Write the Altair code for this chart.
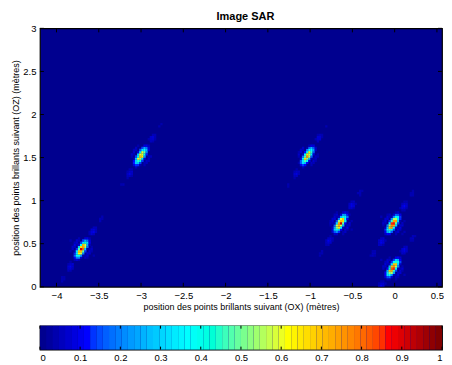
import numpy as np
import pandas as pd
import altair as alt

# ---- data ----
title_text = ["Image SAR"]
# bright scatterers (metres) and their peak level in the normalised SAR image
scat_x = [-3.70, -3.00, -1.03, -0.64, -0.02, -0.02]
scat_z = [0.44, 1.52, 1.52, 0.74, 0.73, 0.22]
scat_amp = [0.97, 0.78, 0.80, 0.95, 1.00, 0.97]

x_ticks = [-4, -3.5, -3, -2.5, -2, -1.5, -1, -0.5, 0, 0.5]
z_ticks = [0, 0.5, 1, 1.5, 2, 2.5, 3]
cb_ticks = [0, 0.1, 0.2, 0.3, 0.4, 0.5, 0.6, 0.7, 0.8, 0.9, 1]

X_MIN, X_MAX = -4.196, 0.56
Z_MIN, Z_MAX = 0.0, 3.0

# jet colormap stops
jet_dom = [0, 0.111, 0.365, 0.619, 0.873, 1]
jet_rng = ["#00008F", "#0000FF", "#00FFFF", "#FFFF00", "#FF0000", "#800000"]

# ---- image of the point scatterers (point spread function) ----
step = 0.025
xc = np.arange(X_MIN + step / 2, X_MAX, step)
zc = np.arange(Z_MIN + step / 2, Z_MAX, step)
XX, ZZ = np.meshgrid(xc, zc)
th = np.deg2rad(57)
val = np.zeros_like(XX)
for sx, sz, a in zip(scat_x, scat_z, scat_amp):
    dx, dz = XX - sx, ZZ - sz
    u = dx * np.cos(th) + dz * np.sin(th)
    v = -dx * np.sin(th) + dz * np.cos(th)
    env = np.abs(np.sinc(u / 0.17)) ** 1.5 * np.abs(np.sinc(v / 0.065)) ** 1.6
    fringe = 0.9 + 0.1 * np.cos(2 * np.pi * u / 0.05)
    val += a * env * fringe
val = np.clip(val, 0, 1)
mask = val > 0.03
h = step * 0.54
heat_df = pd.DataFrame({
    "x0": XX[mask] - h, "x1": XX[mask] + h,
    "z0": ZZ[mask] - h, "z1": ZZ[mask] + h,
    "v": val[mask],
})

W, H = 403, 259
color_scale = alt.Scale(domain=jet_dom, range=jet_rng, clamp=True)
xs = alt.Scale(domain=[X_MIN, X_MAX], nice=False, zero=False)
zs = alt.Scale(domain=[Z_MIN, Z_MAX], nice=False, zero=False)

FONT = "Liberation Sans"
minus = "replace(datum.label, '-', '\u2212')"

heat = alt.Chart(heat_df).mark_rect(clip=True).encode(
    x=alt.X("x0:Q", scale=xs,
            axis=alt.Axis(values=x_ticks, format="~g", labelExpr=minus,
                          title="position des points brillants suivant (OX) (mètres)",
                          labelPadding=4, titlePadding=2)),
    x2="x1:Q",
    y=alt.Y("z0:Q", scale=zs,
            axis=alt.Axis(values=z_ticks, format="~g",
                          title="position des points brillants suivant (OZ) (mètres)",
                          labelPadding=4, titlePadding=2)),
    y2="z1:Q",
    color=alt.Color("v:Q", scale=color_scale, legend=None),
)

xt_df = pd.DataFrame({"t": x_ticks})
zt_df = pd.DataFrame({"t": z_ticks})
TL = 4
tick_b = alt.Chart(xt_df).mark_rule(color="black", y2Offset=-TL).encode(
    x=alt.X("t:Q", scale=xs), y=alt.datum(Z_MIN), y2=alt.datum(Z_MIN))
tick_t = alt.Chart(xt_df).mark_rule(color="black", y2Offset=TL).encode(
    x=alt.X("t:Q", scale=xs), y=alt.datum(Z_MAX), y2=alt.datum(Z_MAX))
tick_l = alt.Chart(zt_df).mark_rule(color="black", x2Offset=TL).encode(
    y=alt.Y("t:Q", scale=zs), x=alt.datum(X_MIN), x2=alt.datum(X_MIN))
tick_r = alt.Chart(zt_df).mark_rule(color="black", x2Offset=-TL).encode(
    y=alt.Y("t:Q", scale=zs), x=alt.datum(X_MAX), x2=alt.datum(X_MAX))

title_mark = alt.Chart(pd.DataFrame({"t": title_text})).mark_text(
    font=FONT, fontSize=11, fontWeight="bold", color="black", baseline="middle", align="center"
).encode(x=alt.value(206), y=alt.value(-11), text="t:N")

main = alt.layer(heat, tick_b, tick_t, tick_l, tick_r, title_mark).properties(width=W, height=H)

# ---- colour bar ----
levels = 64
cb_df = pd.DataFrame({
    "c0": [i / levels for i in range(levels)],
    "c1": [(i + 1) / levels for i in range(levels)],
    "v": [i / (levels - 1) for i in range(levels)],
})
CBH = 24
cs = alt.Scale(domain=[0, 1], nice=False, zero=False)
cb_rect = alt.Chart(cb_df).mark_rect().encode(
    x=alt.X("c0:Q", scale=cs, axis=alt.Axis(values=cb_ticks, format="~g", title=None, labelPadding=3)),
    x2="c1:Q",
    y=alt.value(0), y2=alt.value(CBH),
    color=alt.Color("v:Q", scale=color_scale, legend=None),
)
cbt_df = pd.DataFrame({"t": cb_ticks})
cb_tb = alt.Chart(cbt_df).mark_rule(color="black").encode(
    x=alt.X("t:Q", scale=cs), y=alt.value(CBH), y2=alt.value(CBH - 3))
cb_tt = alt.Chart(cbt_df).mark_rule(color="black").encode(
    x=alt.X("t:Q", scale=cs), y=alt.value(0), y2=alt.value(3))
cbar = alt.layer(cb_rect, cb_tb, cb_tt).properties(width=W, height=CBH)

chart = alt.vconcat(main, cbar, spacing=11).resolve_scale(x="independent", color="shared").properties(
    padding={"left": 3, "top": 2, "right": -1, "bottom": -2}, background="white"
).configure_view(
    fill="#00008F", stroke="black", strokeWidth=1.2
).configure_axis(
    domain=False, ticks=False, tickSize=0, grid=False,
    labelFont=FONT, labelFontSize=9.5, labelColor="black",
    titleFont=FONT, titleFontSize=9, titleFontWeight="normal", titleColor="black",
)

chart.save("out.html", embed_options={"renderer": "svg", "actions": False})
